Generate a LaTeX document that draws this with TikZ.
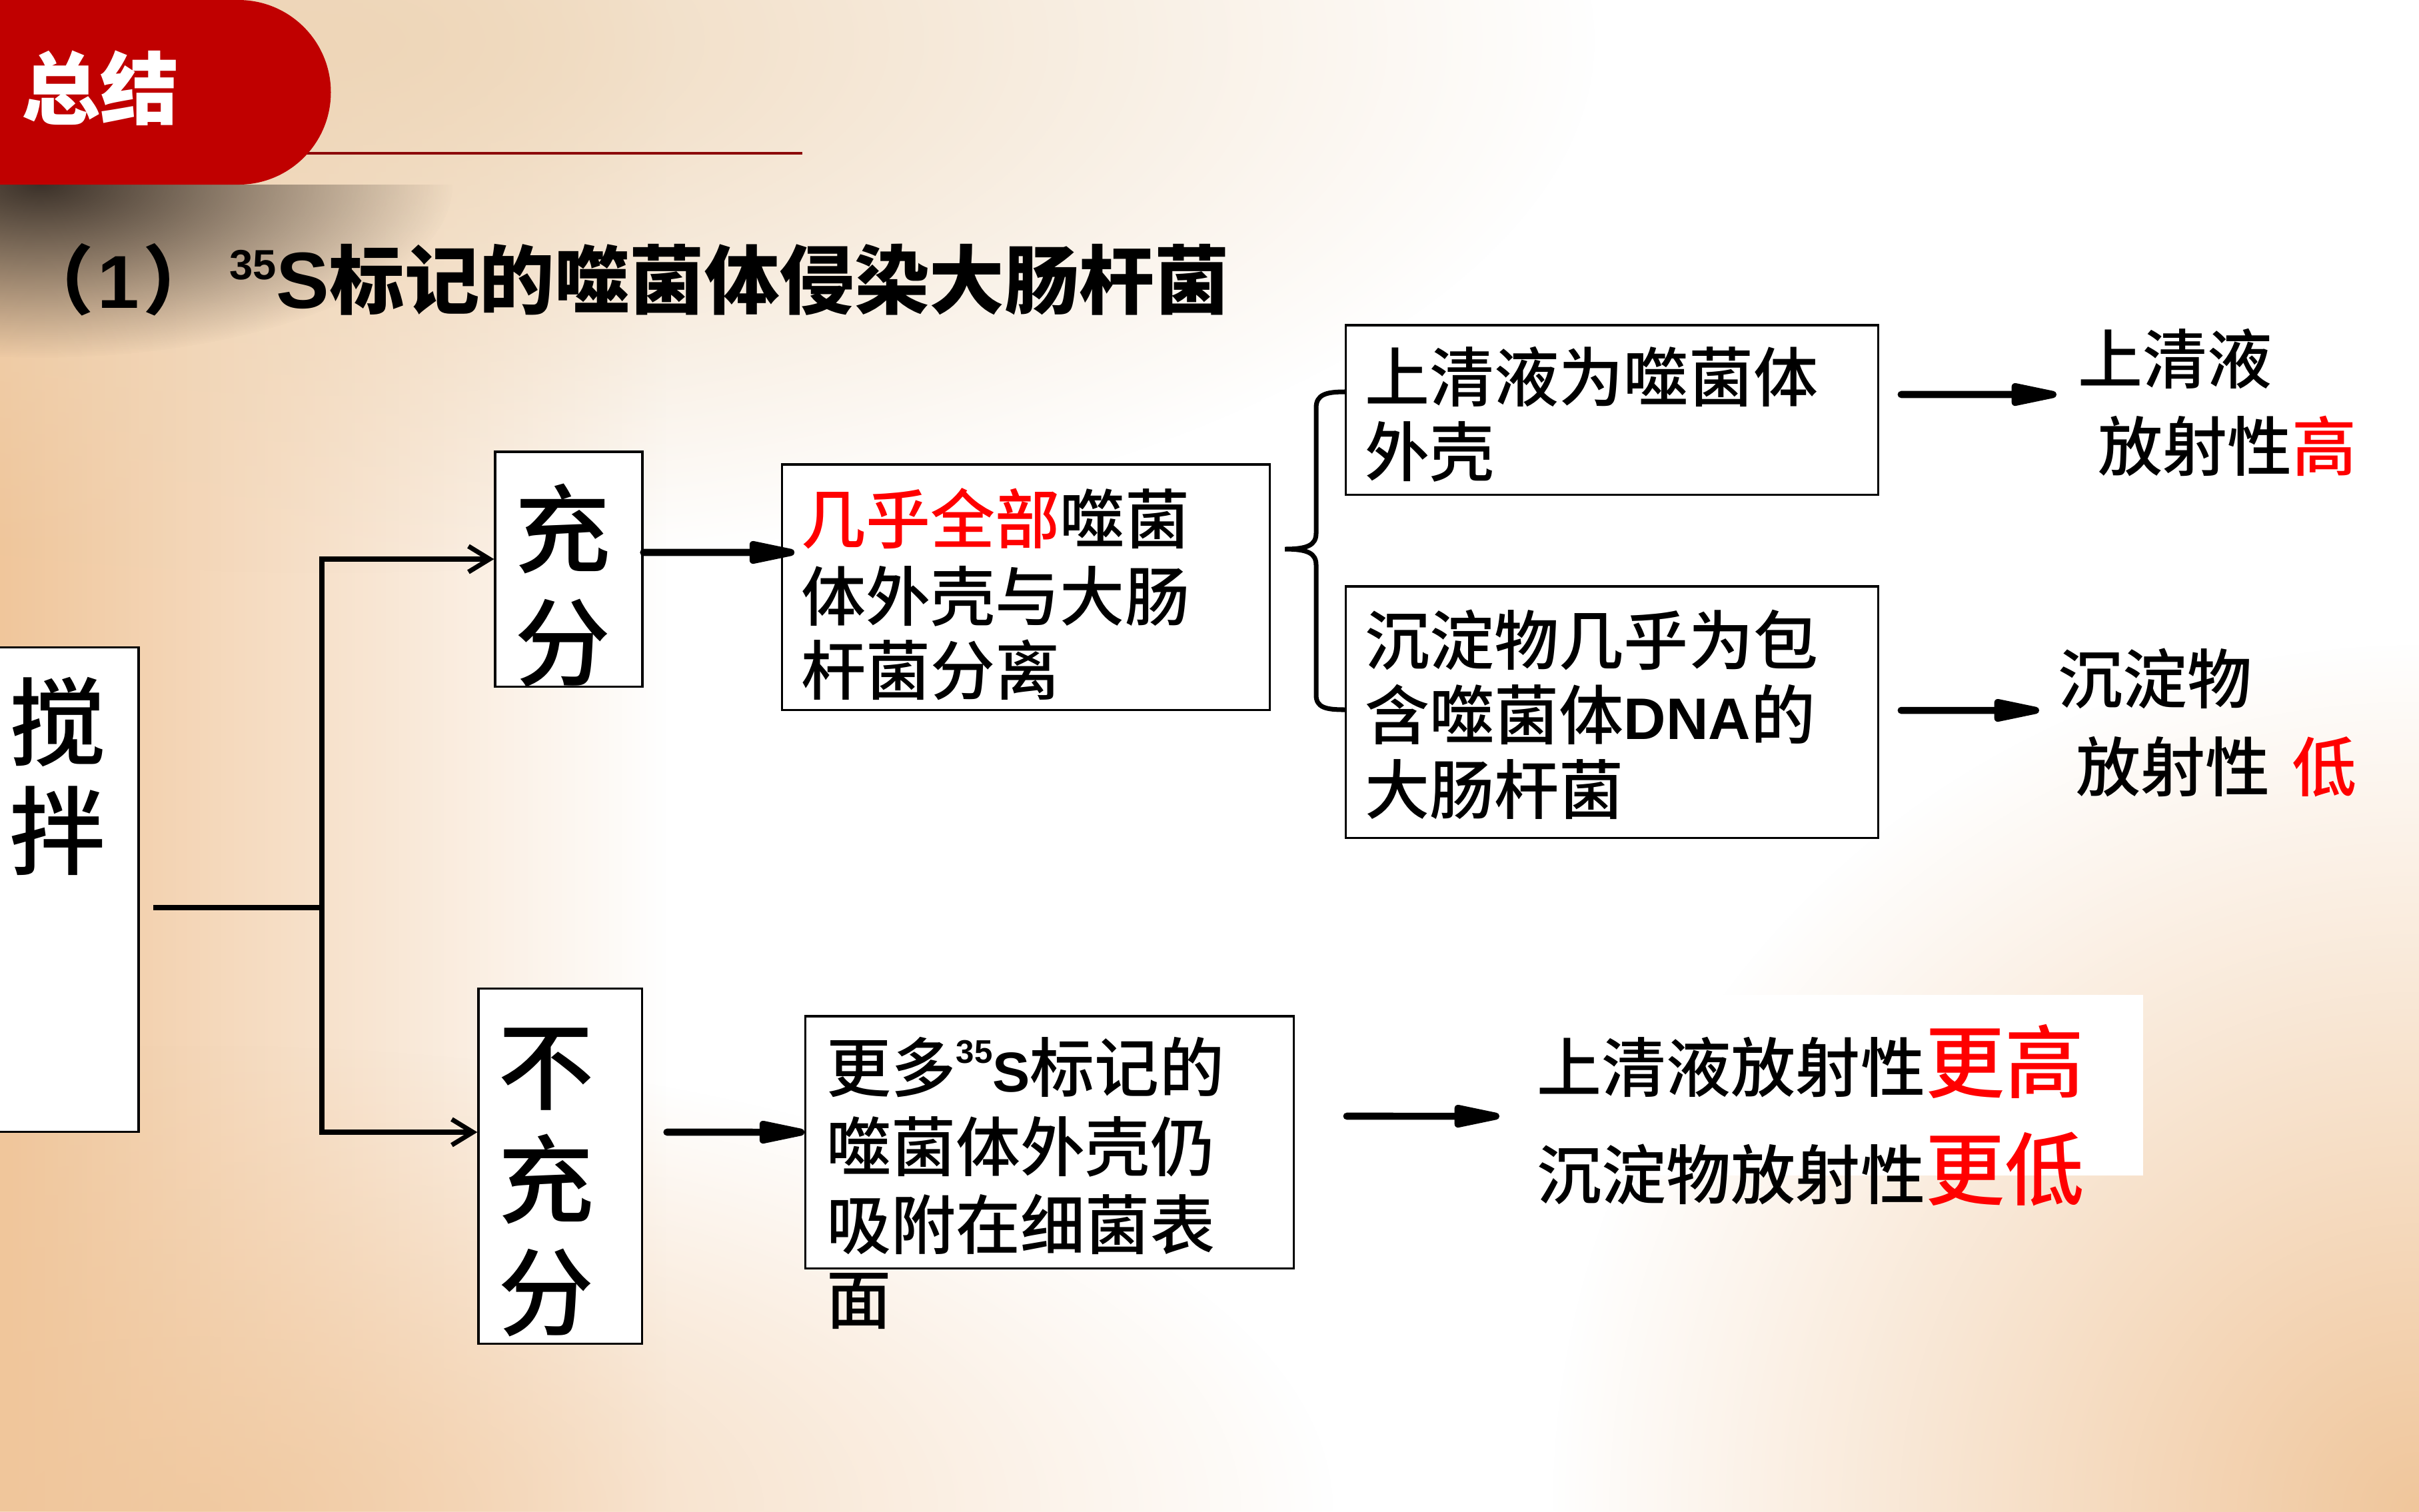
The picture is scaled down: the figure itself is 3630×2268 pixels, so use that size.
\documentclass[tikz,border=0pt]{standalone}
\usepackage{fontspec}
\setmainfont{Noto Sans CJK SC}
\newfontfamily\medfont{Noto Sans CJK SC Medium}
\newfontfamily\arial{Liberation Sans}
\usetikzlibrary{arrows.meta,fadings}
\definecolor{tabred}{RGB}{192,0,0}
\definecolor{linered}{RGB}{140,10,10}
\definecolor{peach}{RGB}{240,198,155}
\definecolor{beige}{RGB}{238,214,184}
\definecolor{shadowc}{RGB}{60,50,42}
\tikzfading[name=myglow, inner color=transparent!0, outer color=transparent!100]
\begin{document}
\begin{tikzpicture}[x=0.01cm,y=-0.01cm,
  box/.style={draw=black,line width=0.9pt,fill=white,inner sep=0pt},
  txt/.style={inner sep=0pt,anchor=base west,font=\medfont\fontsize{27.6pt}{32pt}\selectfont},
  big/.style={inner sep=0pt,anchor=base,font=\medfont\fontsize{41pt}{48pt}\selectfont},
  conn/.style={line width=2.1pt},
  openarrow/.style={line width=2.1pt,-{Straight Barb[length=9pt,width=11pt,line width=2pt]}},
  fatarrow/.style={line width=3pt,line cap=round,-{Triangle[length=26pt,width=9.5pt,round]}},
]
\useasboundingbox (0,0) rectangle (3630,2268);
\clip (0,0) rectangle (3630,2268);
% background
\fill[white] (0,0) rectangle (3630,2268);
\fill[peach,path fading=east] (0,0) rectangle (1000,2268);
\fill[beige,path fading=myglow] (500,60) ellipse [x radius=1900, y radius=800];
\fill[peach,path fading=myglow,opacity=0.8] (300,2268) ellipse [x radius=1700, y radius=700];
\fill[peach,path fading=myglow] (3630,2268) ellipse [x radius=1300, y radius=1300];
% tab
\begin{scope}
  \clip (0,277) rectangle (900,700);
  \fill[shadowc,path fading=myglow] (60,277) ellipse [x radius=620, y radius=260];
\end{scope}
\draw[linered,line width=0.9pt] (358,230) -- (1204,230);
\fill[tabred] (0,0) -- (358,0) arc[start angle=-90,end angle=90,radius=138.5] -- (0,277) -- cycle;
\node[anchor=base west,inner sep=0pt,text=white,font=\bfseries\fontsize{33.6pt}{38pt}\selectfont] (tab) at (32,177) {总结};
% title
\node[anchor=base west,inner sep=0pt,font=\bfseries\fontsize{32pt}{36pt}\selectfont] (title) at (28,462)
  {（\hspace{1.5pt}{\arial 1}\hspace{1.5pt}）\hspace{5pt}\raisebox{12pt}{\fontsize{18pt}{20pt}\selectfont\arial 35}{\arial\fontsize{34pt}{36pt}\selectfont S}标记的噬菌体侵染大肠杆菌};
% boxes
\node[box,minimum width=2.18cm,minimum height=7.26cm] (stir) at (99,1335) {};
\node[box,minimum width=2.21cm,minimum height=3.52cm] (full) at (853.5,854) {};
\node[box,minimum width=2.45cm,minimum height=5.32cm] (notfull) at (840.5,1750) {};
\node[box,minimum width=7.31cm,minimum height=3.68cm] (b1) at (1539.5,881) {};
\node[box,minimum width=7.98cm,minimum height=2.54cm] (b2) at (2419,615) {};
\node[box,minimum width=7.98cm,minimum height=3.77cm] (b3) at (2419,1068.5) {};
\node[box,minimum width=7.32cm,minimum height=3.78cm] (b4) at (1575,1714) {};
\fill[white] (2290,1493) rectangle (3216,1764);
% big characters
\node[big] (c1) at (87,1138) {搅};
\node[big] (c2) at (87,1301) {拌};
\node[big] (c3) at (845,848) {充};
\node[big] (c4) at (845,1018) {分};
\node[big] (c5) at (820,1654) {不};
\node[big] (c6) at (820,1824) {充};
\node[big] (c7) at (820,1993) {分};
% box texts
\node[txt] (t11) at (1202,815) {\textcolor{red}{几乎全部}噬菌};
\node[txt] (t12) at (1202,931) {体外壳与大肠};
\node[txt] (t13) at (1202,1042) {杆菌分离};
\node[txt] (t21) at (2048,602) {上清液为噬菌体};
\node[txt] (t22) at (2048,714) {外壳};
\node[txt] (t31) at (2048,997) {沉淀物几乎为包};
\node[txt] (t32) at (2048,1109) {含噬菌体{\arial\bfseries\fontsize{25pt}{30pt}\selectfont DNA}的};
\node[txt] (t33) at (2048,1221) {大肠杆菌};
\node[txt] (t41) at (1240,1638) {更多\raisebox{12pt}{\arial\bfseries\fontsize{14pt}{16pt}\selectfont 35}{\arial\bfseries\fontsize{24pt}{28pt}\selectfont S}标记的};
\node[txt] (t42) at (1240,1757) {噬菌体外壳仍};
\node[txt] (t43) at (1240,1874) {吸附在细菌表};
\node[txt] (t44) at (1240,1986) {面};
% right texts
\node[txt] (r1) at (3118,575) {上清液};
\node[txt] (r2) at (3148,706) {放射性\textcolor{red}{高}};
\node[txt] (r3) at (3088,1055) {沉淀物};
\node[txt] (r4) at (3115,1187) {放射性\hspace{9.4pt}\textcolor{red}{低}};
\node[txt] (q1) at (2306,1638) {上清液放射性{\color{red}\fontsize{33.9pt}{38pt}\selectfont 更高}};
\node[txt] (q2) at (2306,1799) {沉淀物放射性{\color{red}\fontsize{33.9pt}{38pt}\selectfont 更低}};
% connectors
\coordinate (s0) at (230,1362);
\coordinate (j) at (483,1362);
\draw[conn] (s0) -- (j);
\draw[openarrow] (j) |- ([yshift=0.15cm]full.west);
\draw[openarrow] (j) |- ([yshift=0.51cm]notfull.west);
\draw[fatarrow] ([yshift=0.25cm]full.east) -- ([xshift=0.2cm,yshift=0.52cm]b1.west);
\draw[fatarrow] ([xshift=0.36cm,yshift=0.51cm]notfull.east) -- ([yshift=0.15cm]b4.west);
\coordinate (e1) at (3086,592);
\coordinate (e2) at (3060,1066);
\coordinate (e3) at (2250,1675);
\draw[fatarrow] ([xshift=0.33cm,yshift=0.23cm]b2.east) -- (e1);
\draw[fatarrow] ([xshift=0.33cm,yshift=0.025cm]b3.east) -- (e2);
\draw[fatarrow] ([xshift=0.78cm,yshift=0.39cm]b4.east) -- (e3);
% brace
\coordinate (tip) at (1928,824);
\draw[line width=2pt] ([yshift=0.27cm]b2.west) .. controls (1990,588) and (1975,592) .. (1975,612)
  -- (1975,800) .. controls (1975,818) and (1962,824) .. (tip)
  .. controls (1962,824) and (1975,830) .. (1975,848)
  -- (1975,1043) .. controls (1975,1062) and (1990,1065) .. ([yshift=0.035cm]b3.west);
\end{tikzpicture}
\end{document}
